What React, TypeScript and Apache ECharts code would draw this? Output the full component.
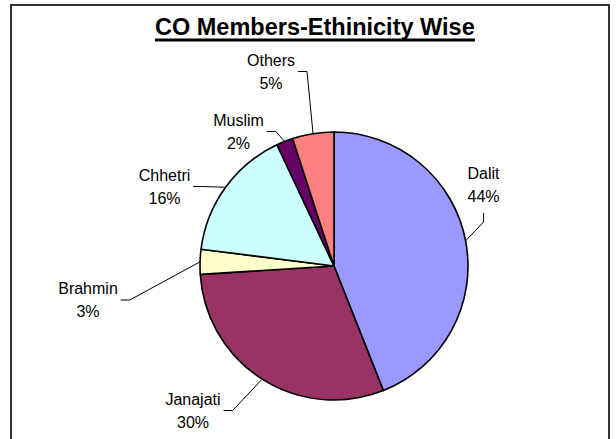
import React, { useEffect, useRef } from "react";
import * as echarts from "echarts";

// ---- data ----
const categories = ["Dalit", "Janajati", "Brahmin", "Chhetri", "Muslim", "Others"];
const values = [44, 30, 3, 16, 2, 5];
const colors = ["#9999FF", "#993366", "#FFFFCC", "#CCFFFF", "#660066", "#FF8080"];
const titleText = "CO Members-Ethinicity Wise";

// ---- label placement (styling only) ----
const labelSpots = [
  { x: 483.5, y: 185, side: "bottom" },
  { x: 193, y: 410.5, side: "right" },
  { x: 88, y: 300, side: "right" },
  { x: 164.5, y: 186.5, side: "right" },
  { x: 238.5, y: 131.5, side: "right" },
  { x: 271, y: 71.5, side: "right" },
];

export default function App() {
  const ref = useRef<HTMLDivElement>(null);

  useEffect(() => {
    document.body.style.margin = "0";
    if (!ref.current) return;
    const chart = echarts.init(ref.current, null, { renderer: "svg" });
    const FONT = "'Liberation Sans', Arial, sans-serif";
    chart.setOption({
      animation: false,
      backgroundColor: "#ffffff",
      title: {
        text: titleText,
        left: 155,
        top: 15,
        padding: 0,
        textStyle: {
          fontFamily: FONT,
          fontSize: 23.5,
          fontWeight: "bold",
          color: "#000",
          lineHeight: 23,
        },
      },
      graphic: [
        {
          type: "rect",
          shape: { x: 155, y: 38.5, width: 320, height: 3 },
          style: { fill: "#000" },
          silent: true,
        },
        {
          type: "rect",
          shape: { x: 11, y: 5, width: 598, height: 445 },
          style: { fill: "none", stroke: "#333", lineWidth: 2 },
          silent: true,
        },
      ],
      series: [
        {
          type: "pie",
          center: [334, 266],
          radius: 134,
          startAngle: 90,
          clockwise: true,
          avoidLabelOverlap: false,
          data: categories.map((name, i) => ({
            name,
            value: values[i],
            itemStyle: { color: colors[i] },
          })),
          itemStyle: { borderColor: "#000", borderWidth: 1.6 },
          label: {
            show: true,
            position: "outside",
            fontFamily: FONT,
            fontSize: 16,
            color: "#000",
            lineHeight: 23,
            formatter: (p: any) => `${p.name}\n${Math.round(p.percent)}%`,
          },
          labelLine: {
            show: true,
            length: 10,
            length2: 10,
            lineStyle: { color: "#000", width: 1 },
          },
          labelLayout: (params: any) => {
            const spot = labelSpots[params.dataIndex];
            const w = params.labelRect.width;
            const h = params.labelRect.height;
            const p0 = params.labelLinePoints
              ? params.labelLinePoints[0]
              : [spot.x, spot.y];
            let end: number[];
            let bend: number[];
            if (spot.side === "bottom") {
              end = [spot.x, spot.y + h / 2 + 5];
              bend = [spot.x, end[1] + 9];
            } else if (spot.side === "left") {
              end = [spot.x - w / 2 - 3, spot.y];
              bend = [end[0] - 9, spot.y];
            } else {
              end = [spot.x + w / 2 + 3, spot.y];
              bend = [end[0] + 9, spot.y];
            }
            return {
              x: spot.x,
              y: spot.y,
              align: "center",
              verticalAlign: "middle",
              labelLinePoints: [p0, bend, end],
            };
          },
          emphasis: { disabled: true },
        },
      ],
    });
    return () => chart.dispose();
  }, []);

  return <div ref={ref} style={{ width: 616, height: 439 }} />;
}
